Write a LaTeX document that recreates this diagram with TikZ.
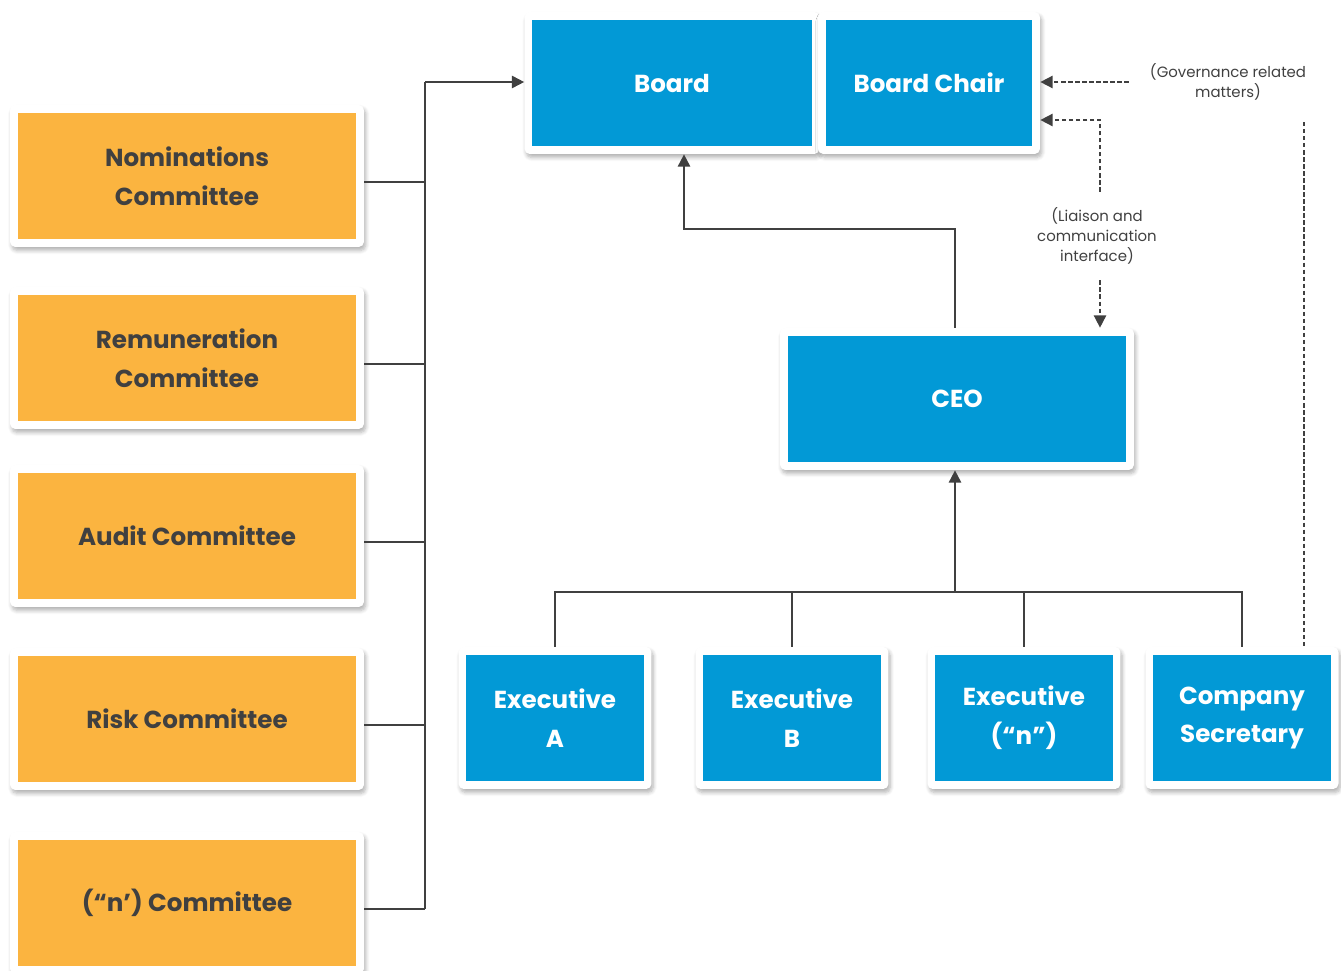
\documentclass[tikz,border=0pt]{standalone}
\usepackage{fontspec}
\setmainfont{Poppins}
\usetikzlibrary{arrows.meta,shadows.blur}
\definecolor{unitblue}{HTML}{0299D6}
\definecolor{cmtorange}{HTML}{FBB440}
\definecolor{ink}{HTML}{404040}
\tikzset{
  card/.style={fill=white, rounded corners=3pt, inner sep=0pt, align=center,
    minimum height=2.84cm, font=\bfseries\fontsize{14}{22}\selectfont,
    blur shadow={shadow xshift=1pt, shadow yshift=-2pt, shadow blur steps=6, shadow opacity=30},
    path picture={\fill[#1, sharp corners]
      ([shift={(4.5pt,-4.5pt)}]path picture bounding box.north west) rectangle
      ([shift={(-4.5pt,4.5pt)}]path picture bounding box.south east);}},
  committee/.style={card=cmtorange, text=ink, minimum width=7.08cm},
  unit/.style={card=unitblue, text=white},
  execbox/.style={unit, minimum width=3.86cm},
  note/.style={text=ink, align=center, font=\fontsize{8.5}{11.3}\selectfont},
  link/.style={draw=ink, line width=1pt},
  dashlink/.style={draw=ink, line width=0.9pt, dash pattern=on 2.5pt off 1.5pt},
  arr/.style={-{Triangle[length=7pt,width=7pt]}}
}
\begin{document}
\begin{tikzpicture}[x=0.02cm,y=-0.02cm]
  \useasboundingbox (0,0) rectangle (1341,970);
  % committees
  \node[committee] (nom) at (187,176) {Nominations\\Committee};
  \node[committee] (rem) at (187,358) {Remuneration\\Committee};
  \node[committee] (aud) at (187,536) {Audit Committee};
  \node[committee] (risk) at (187,719) {Risk Committee};
  \node[committee] (ncom) at (187,903) {(“n’) Committee};
  % board and executives
  \node[unit, minimum width=5.9cm] (board) at (672,83) {Board};
  \node[unit, minimum width=4.44cm] (chair) at (929,83) {Board Chair};
  \node[unit, minimum width=7.08cm] (ceo) at (957,399) {CEO};
  \node[execbox] (exa) at (555,718) {Executive\\A};
  \node[execbox] (exb) at (792,718) {Executive\\B};
  \node[execbox] (exn) at (1024,718) {Executive\\(“n”)};
  \node[execbox] (cs) at (1242,718) {Company\\Secretary};
  % committees to board
  \coordinate (spine) at (425,82);
  \foreach \c in {nom,rem,aud,risk,ncom}
    \draw[link] ([yshift=-0.12cm]\c.east) -- ([yshift=-0.12cm]\c.east -| spine);
  \draw[link] ([yshift=-0.12cm]ncom.east -| spine) -- (spine);
  \draw[link,arr] (spine) -- (spine -| board.west);
  % executives to ceo
  \coordinate (hub) at (955,592);
  \foreach \e in {exa,exb,exn,cs}
    \draw[link] (\e.north) |- (hub);
  \draw[link,arr] (hub) -- (ceo.south -| hub);
  % ceo to board
  \coordinate (elbow) at (684,229);
  \draw[link,arr] (ceo.north -| hub) |- (elbow) -- (elbow |- board.south);
  % dashed lines
  \node[note] (gov) at (1228,82) {(Governance related\\matters)};
  \draw[dashlink,arr,shorten <=0.3cm] (gov.west) -- (gov.west -| chair.east);
  \coordinate (sectail) at (1304,122);
  \draw[dashlink] (sectail) -- (sectail |- cs.north);
  \node[note] (liaison) at (1097,236) {(Liaison and\\communication\\interface)};
  \coordinate (liatop) at (1100,120);
  \draw[dashlink,arr,shorten <=0.2cm] (liatop |- liaison.north) -- (liatop) -- (liatop -| chair.east);
  \draw[dashlink,arr,shorten <=0.2cm] (liatop |- liaison.south) -- (liatop |- ceo.north);
\end{tikzpicture}
\end{document}
